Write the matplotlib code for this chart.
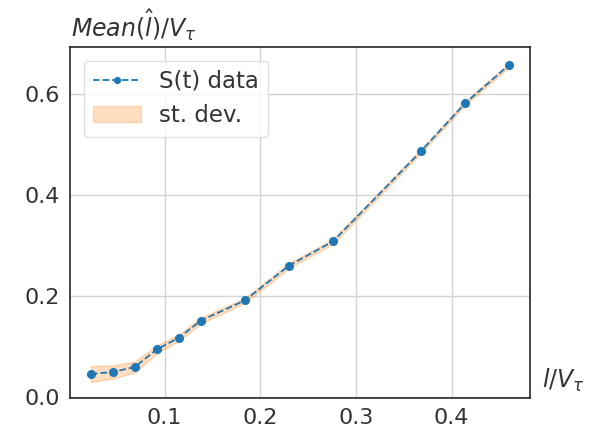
import matplotlib
matplotlib.use("Agg")
import matplotlib.pyplot as plt
import seaborn as sns
import numpy as np

sns.set_theme(style="whitegrid")
plt.rcParams['font.family'] = ['DejaVu Sans']

x_vals = [0.023, 0.046, 0.069, 0.092, 0.115, 0.138, 0.184, 0.230, 0.276, 0.368, 0.414, 0.460]
mean_vals = [0.045, 0.049, 0.059, 0.094, 0.117, 0.151, 0.191, 0.260, 0.308, 0.487, 0.582, 0.658]
std_vals = [0.016, 0.013, 0.011, 0.008, 0.006, 0.006, 0.005, 0.005, 0.005, 0.004, 0.004, 0.004]

x = np.array(x_vals)
m = np.array(mean_vals)
s = np.array(std_vals)

fig = plt.figure(figsize=(5.95, 4.37), dpi=100)
ax = fig.add_axes([70/595, 1-398/437, 460/595, 351/437])

ax.plot(x, m, '--o', color='#1f77b4', lw=1.3, markersize=5.5, label='S(t) data')
ax.fill_between(x, m - s, m + s, color='#ff7f0e', alpha=0.25, lw=1.0, label='st. dev.')

for sp in ax.spines.values():
    sp.set_color('#262626')
    sp.set_linewidth(1.2)
ax.grid(True, color='#d4d4d4', lw=1.0)

ax.set_xticks([0.1, 0.2, 0.3, 0.4])
ax.set_yticks([0.0, 0.2, 0.4, 0.6])
ax.tick_params(labelsize=16, colors='#333333', length=0, pad=7)

ax.text(0.003, 1.03, r'$Mean(\hat{l})/V_\tau$', transform=ax.transAxes,
        fontsize=17, color='#333333', ha='left', va='baseline')
ax.text(1.026, 0.028, r'$l/V_\tau$', transform=ax.transAxes,
        fontsize=17, color='#333333', ha='left', va='baseline')

leg = ax.legend(loc='upper left', fontsize=16.5, frameon=True, borderpad=0.4,
                handlelength=2.1, borderaxespad=0.6, markerscale=0.75)
leg.get_frame().set_edgecolor('#d9d9d9')
for t in leg.get_texts():
    t.set_color('#333333')

fig.savefig('out.png', dpi=100)
